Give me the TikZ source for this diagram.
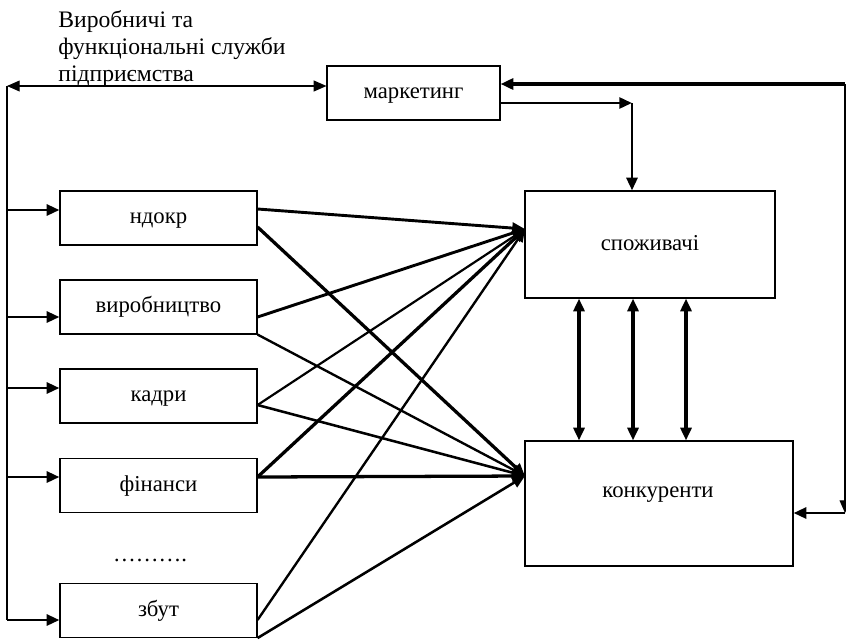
\documentclass[tikz,border=0pt]{standalone}
\usepackage{fontspec}
\setmainfont{Liberation Serif}
\usetikzlibrary{arrows.meta,calc}
\begin{document}
\begin{tikzpicture}[x=0.55pt,y=-0.55pt,
  txt/.style={font=\fontsize{12.5}{14.8}\selectfont, inner sep=0pt, text height=0.7em, text depth=0.08em},
  box/.style={draw, line width=0.6pt, inner sep=0pt, font=\fontsize{12.5}{14.8}\selectfont, text height=0.7em, text depth=0.08em},
  sbox/.style={box, minimum width=197*0.55pt, minimum height=54*0.55pt},
  wthin/.style={line width=0.6pt},
  wthick/.style={line width=1.6pt},
  tip/.style={-{Triangle[length=7pt,width=6pt]}},
  dtip/.style={{Triangle[length=7pt,width=6pt]}-{Triangle[length=7pt,width=6pt]}}
]
\useasboundingbox (0,0) rectangle (846,639);

% boxes
\node[box, minimum width=173*0.55pt, minimum height=54*0.55pt] (mkt) at (413.5,93) {маркетинг};
\node[box, minimum width=250*0.55pt, minimum height=107*0.55pt] (sp) at (650,244.5) {споживачі};
\node[box, minimum width=268*0.55pt, minimum height=125*0.55pt] (kon) at (659,503.5) {};
\node[txt] (kontxt) at (658,492) {конкуренти};
\node[sbox] (nd) at (158.5,218) {ндокр};
\node[sbox] (vyr) at (158.5,307) {виробництво};
\node[sbox] (kad) at (158.5,396) {кадри};
\node[sbox] (fin) at (158.5,485.5) {фінанси};
\node[sbox] (zb) at (158.5,610.5) {збут};
\node[txt] (dots) at (150,556) {……….};
\node[font=\fontsize{13}{14.85}\selectfont, inner sep=0pt, align=left, anchor=north west] (title) at (58,10) {Виробничі та\\функціональні служби\\підприємства};

% left bus
\coordinate (TL) at (7,86);
\coordinate (BL) at (7,620);
\draw[wthin] (TL) -- (BL);
\draw[wthin, dtip] (TL) -- (TL -| mkt.west);
\coordinate (l1) at (7,210);
\coordinate (l2) at (7,317);
\coordinate (l3) at (7,388);
\coordinate (l4) at (7,477);
\draw[wthick, tip] (l1) -- (l1 -| nd.west);
\draw[wthick, tip] (l2) -- (l2 -| vyr.west);
\draw[wthick, tip] (l3) -- (l3 -| kad.west);
\draw[wthick, tip] (l4) -- (l4 -| fin.west);
\draw[wthick, tip] (BL) -- (BL -| zb.west);

% right loop
\coordinate (TR) at (845,84);
\coordinate (RR) at (845,513);
\draw[line width=1.8pt, tip] (TR) -- (TR -| mkt.east);
\draw[wthin, tip] (TR) -- (RR);
\draw[wthick, tip] (RR) -- (RR -| kon.east);

% marketing to consumers
\coordinate (M1) at (632,103);
\draw[wthick, tip] (M1 -| mkt.east) -- (M1);
\draw[wthick, tip] (M1) -- (M1 |- sp.north);

% consumers <-> competitors
\coordinate (v1) at (579,0);
\coordinate (v2) at (633,0);
\coordinate (v3) at (686,0);
\draw[line width=1.8pt, dtip] (v1 |- sp.south) -- (v1 |- kon.north);
\draw[line width=1.8pt, dtip] (v2 |- sp.south) -- (v2 |- kon.north);
\draw[line width=1.8pt, dtip] (v3 |- sp.south) -- (v3 |- kon.north);

% converging lines
\coordinate (S) at (525,229);
\coordinate (K) at (525,476);
\draw[line width=1.6pt, tip] ($(nd.east)+(0,-9)$) -- (S);
\draw[line width=1.8pt, tip] ($(nd.east)+(0,9)$) -- (K);
\draw[line width=1.6pt, tip] ($(vyr.east)+(0,10)$) -- (S);
\draw[line width=1.3pt, tip] (vyr.south east) -- (K);
\draw[line width=1.2pt, tip] ($(kad.east)+(0,9)$) -- (S);
\draw[line width=1.4pt, tip] ($(kad.east)+(0,9)$) -- (K);
\draw[line width=1.8pt, tip] ($(fin.east)+(0,-8.5)$) -- (S);
\draw[line width=1.8pt, tip] ($(fin.east)+(0,-8.5)$) -- (K);
\draw[line width=1.3pt, tip] ($(zb.east)+(0,9.5)$) -- (S);
\draw[line width=1.4pt, tip] (zb.south east) -- (K);
\end{tikzpicture}
\end{document}
